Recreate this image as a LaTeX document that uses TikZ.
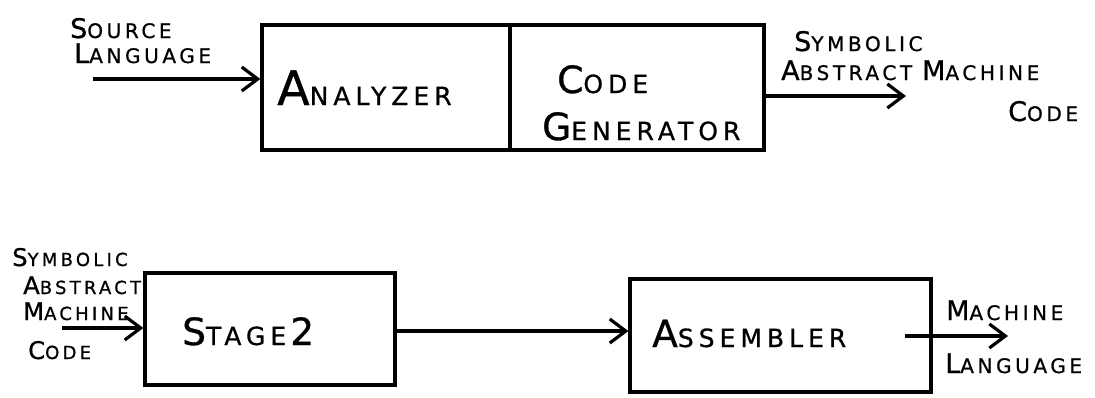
\documentclass[tikz,border=0pt]{standalone}
\usepackage{fontspec}
\usepackage{graphicx}
\usetikzlibrary{arrows.meta}
\newfontfamily\labfont[LetterSpace=18,FakeBold=0.8]{DejaVu Sans}
\newfontfamily\boxfont[LetterSpace=20,FakeBold=0.8]{DejaVu Sans}
% hand-lettered small caps: enlarged initial followed by smaller capitals
\newcommand\iniS[2]{\scalebox{1.35}{#1}#2}
\newcommand\iniL[2]{\scalebox{1.5}{#1}#2}
\newcommand\iniX[2]{\scalebox{1.9}{#1}#2}
\begin{document}
\begin{tikzpicture}[x=1pt,y=-1pt,
  blk/.style={draw, line width=3.2pt, rectangle, inner sep=0pt,
    minimum height=#1},
  lbl/.style={font=\labfont\fontsize{20}{22}\selectfont, inner sep=0pt, anchor=base west},
  slbl/.style={font=\labfont\fontsize{18}{20}\selectfont, inner sep=0pt, anchor=base west},
  btxt/.style={font=\boxfont\fontsize{25}{28}\selectfont, inner sep=0pt, anchor=base west},
  flow/.style={line width=3.2pt,
    -{Straight Barb[length=16pt,width=24pt,line width=3.2pt]}}]
\useasboundingbox (0,0) rectangle (1095,397);

% ---- upper chain: analyzer + code generator ----
\node[blk=125pt, minimum width=248pt] (an) at (386,87.5) {};
\node[blk=125pt, minimum width=254pt] (cg) at (637,87.5) {};
\node[btxt] (anT) at (277,105) {\iniX{A}{NALYZER}};
\node[btxt] (cgT1) at (557,93) {\iniL{C}{ODE}};
\node[btxt] (cgT2) at (542,140) {\iniL{G}{ENERATOR}};

\coordinate (srcIn) at (93,79);
\draw[flow] (srcIn) -- (srcIn -| an.west);
\node[lbl] (srcA) at (70,38) {\iniS{S}{OURCE}};
\node[lbl] (srcB) at (74,63) {\iniS{L}{ANGUAGE}};

\coordinate (samOut) at (906,96);
\draw[flow] (samOut -| cg.east) -- (samOut);
\node[lbl] (samA) at (794,51) {\iniS{S}{YMBOLIC}};
\node[lbl] (samB) at (781,80) {\iniS{A}{BSTRACT}\hspace{10pt}\iniS{M}{ACHINE}};
\node[lbl] (samC) at (1008,121) {\iniS{C}{ODE}};

% ---- lower chain: stage 2 -> assembler ----
\node[blk=112pt, minimum width=250pt] (s2) at (270,329) {};
\node[blk=113pt, minimum width=301pt] (asm) at (780.5,335.5) {};
\node[btxt] (s2T) at (182,345) {\iniL{S}{TAGE}\,\scalebox{1.5}{2}};
\node[btxt] (asmT) at (652,347) {\iniL{A}{SSEMBLER}};

\coordinate (s2In) at (62,328);
\draw[flow] (s2In) -- (s2In -| s2.west);
\node[slbl] (s2A) at (12,266) {\iniS{S}{YMBOLIC}};
\node[slbl] (s2B) at (23,294) {\iniS{A}{BSTRACT}};
\node[slbl] (s2C) at (23,320) {\iniS{M}{ACHINE}};
\node[slbl] (s2D) at (28,359) {\iniS{C}{ODE}};

\draw[flow] (s2.east |- 0,331) -- (asm.west |- 0,331);

\coordinate (mlStart) at (905,336);
\coordinate (mlEnd) at (1008,336);
\draw[flow] (mlStart) -- (mlEnd);
\node[lbl] (mlA) at (946,320) {\iniS{M}{ACHINE}};
\node[lbl] (mlB) at (945,373) {\iniS{L}{ANGUAGE}};
\end{tikzpicture}
\end{document}
